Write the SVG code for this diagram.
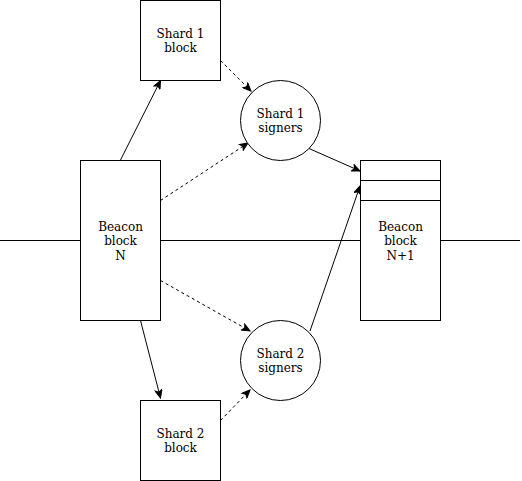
<svg xmlns="http://www.w3.org/2000/svg" width="522" height="481" viewBox="0 0 522 481">
<style>
.n{fill:#fff;stroke:#000;stroke-width:1}
.t{font-family:"DejaVu Serif",serif;font-size:12px;fill:#000;text-anchor:middle}
.c{fill:none;stroke:#000;stroke-width:1}
.d{stroke-dasharray:3 3}
.a{marker-end:url(#ah)}
</style>
<defs>
<marker id="ah" markerUnits="userSpaceOnUse" markerWidth="10" markerHeight="8" refX="9" refY="4" orient="auto" viewBox="0 0 10 8">
<path d="M1,0.5 L9,4 L1,7.5 L3,4 Z" fill="#000" stroke="#000" stroke-width="1"/>
</marker>
</defs>
<rect width="522" height="481" fill="#fff"/>
<g id="connectors">
<line class="c" x1="0" y1="240.5" x2="80" y2="240.5"/>
<line class="c" x1="160" y1="240.5" x2="360" y2="240.5"/>
<line class="c" x1="440" y1="240.5" x2="520" y2="240.5"/>
<line class="c a" x1="120.5" y1="160" x2="160.5" y2="80.5"/>
<line class="c d a" x1="220.5" y1="60.5" x2="251" y2="91"/>
<line class="c d a" x1="160.5" y1="200.5" x2="248" y2="143"/>
<line class="c a" x1="309" y1="148.5" x2="360" y2="171"/>
<line class="c a" x1="310" y1="331" x2="360" y2="186"/>
<line class="c d a" x1="160.5" y1="280.5" x2="250" y2="331"/>
<line class="c a" x1="140.5" y1="320.5" x2="160.5" y2="398"/>
<line class="c d a" x1="220.5" y1="420.5" x2="250" y2="390"/>
</g>
<g id="shard1block">
<rect class="n" x="140.5" y="0.5" width="80" height="80"/>
<text class="t" x="180.5" y="38">Shard 1</text>
<text class="t" x="180.5" y="52">block</text>
</g>
<g id="shard2block">
<rect class="n" x="140.5" y="400.5" width="80" height="80"/>
<text class="t" x="180.5" y="438">Shard 2</text>
<text class="t" x="180.5" y="452">block</text>
</g>
<g id="beaconN">
<rect class="n" x="80.5" y="160.5" width="80" height="160"/>
<text class="t" x="120.5" y="231">Beacon</text>
<text class="t" x="120.5" y="245">block</text>
<text class="t" x="120.5" y="260">N</text>
</g>
<g id="shard1signers">
<circle class="n" cx="280.5" cy="120.5" r="40"/>
<text class="t" x="280.5" y="118">Shard 1</text>
<text class="t" x="280.5" y="132">signers</text>
</g>
<g id="shard2signers">
<circle class="n" cx="280.5" cy="360.5" r="40"/>
<text class="t" x="280.5" y="358">Shard 2</text>
<text class="t" x="280.5" y="372">signers</text>
</g>
<g id="beaconN1">
<rect class="n" x="360.5" y="160.5" width="80" height="160"/>
<line class="c" x1="360.5" y1="180.5" x2="440.5" y2="180.5"/>
<line class="c" x1="360.5" y1="200.5" x2="440.5" y2="200.5"/>
<text class="t" x="400.5" y="231">Beacon</text>
<text class="t" x="400.5" y="245">block</text>
<text class="t" x="400.5" y="260">N+1</text>
</g>
</svg>
